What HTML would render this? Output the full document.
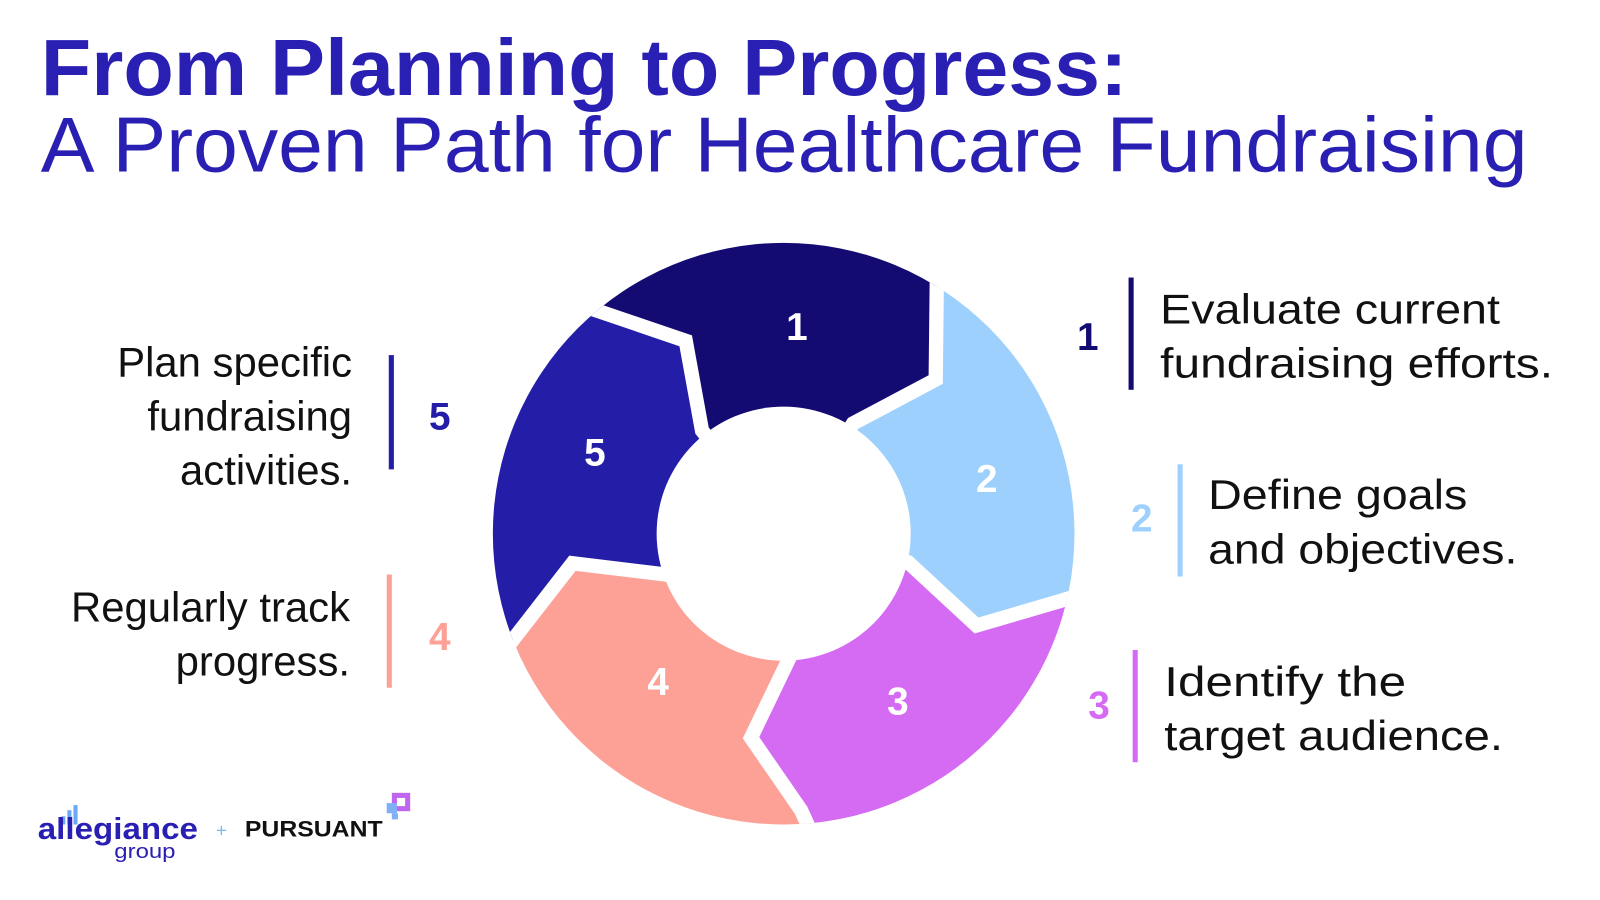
<!DOCTYPE html>
<html><head><meta charset="utf-8"><style>
html,body{margin:0;padding:0;background:#fff;}
svg{display:block;}
text{font-family:"Liberation Sans",sans-serif;}
</style></head><body>
<svg width="1600" height="900" viewBox="0 0 1600 900" xmlns="http://www.w3.org/2000/svg">
<defs>
<clipPath id="outer"><circle cx="768" cy="523" r="285"/></clipPath>
</defs>
<g transform="scale(1.0204)">
<text x="40" y="93" font-size="78" font-weight="bold" fill="#2a1fb3" textLength="1065" lengthAdjust="spacingAndGlyphs">From Planning to Progress:</text>
<text x="40" y="168" font-size="76" fill="#2a1fb3" textLength="1457" lengthAdjust="spacingAndGlyphs">A Proven Path for Healthcare Fundraising</text>

<g clip-path="url(#outer)">
<polygon fill="#130b72" points="768,523 688,422 672,334 584,304 480,270 480,150 919,150 918,281 917,372 836,415"/>
<polygon fill="#9dd0fd" points="768,523 836,415 917,372 918,281 919,150 1100,150 1100,560 1039,589 957,613 890,551"/>
<polygon fill="#d56bf2" points="768,523 890,551 957,613 1039,589 1100,570 1100,900 830,900 785,794 736,723 775,642"/>
<polygon fill="#fda096" points="768,523 775,642 736,723 785,794 830,900 400,900 460,683 505,624 561,552 652,563"/>
<polygon fill="#241da8" points="768,523 652,563 561,552 505,624 460,683 400,683 400,250 480,270 584,304 672,334 688,422"/>
<g fill="none" stroke="#fff" stroke-width="14" stroke-linejoin="miter">
<polyline points="768,523 836,415 917,372 918,281 919,150"/>
<polyline points="768,523 890,551 957,613 1039,589 1110,567"/>
<polyline points="768,523 775,642 736,723 785,794 820,870"/>
<polyline points="768,523 652,563 561,552 505,624 450,696"/>
<polyline points="768,523 688,422 672,334 584,304 470,266"/>
</g>
</g>
<circle cx="768" cy="523" r="124.5" fill="#fff"/>
<g font-size="38" font-weight="bold" fill="#fff" text-anchor="middle">
<text x="781" y="333">1</text>
<text x="967" y="482">2</text>
<text x="880" y="700">3</text>
<text x="645" y="681">4</text>
<text x="583" y="456">5</text>
</g>

<g font-size="41" fill="#111">
<text x="1137" y="317" textLength="333" lengthAdjust="spacingAndGlyphs">Evaluate current</text>
<text x="1137" y="370" textLength="385" lengthAdjust="spacingAndGlyphs">fundraising efforts.</text>
<text x="1184" y="499" textLength="254" lengthAdjust="spacingAndGlyphs">Define goals</text>
<text x="1184" y="552" textLength="303" lengthAdjust="spacingAndGlyphs">and objectives.</text>
<text x="1141" y="682" textLength="237" lengthAdjust="spacingAndGlyphs">Identify the</text>
<text x="1141" y="735" textLength="332" lengthAdjust="spacingAndGlyphs">target audience.</text>
<g text-anchor="end">
<text x="345" y="369">Plan specific</text>
<text x="345" y="422">fundraising</text>
<text x="345" y="475">activities.</text>
<text x="343" y="609">Regularly track</text>
<text x="343" y="662">progress.</text>
</g>
</g>
<rect x="1106" y="272" width="5" height="110" fill="#130b72"/>
<rect x="1154" y="455" width="5" height="110" fill="#9dd0fd"/>
<rect x="1110" y="637" width="5" height="110" fill="#d56bf2"/>
<rect x="381" y="348" width="5" height="112" fill="#241da8"/>
<rect x="379" y="563" width="5" height="111" fill="#fda096"/>
<g font-size="38" font-weight="bold" text-anchor="middle">
<text x="1066" y="343" fill="#130b72">1</text>
<text x="1119" y="521" fill="#9dd0fd">2</text>
<text x="1077" y="704" fill="#d56bf2">3</text>
<text x="431" y="637" fill="#fda096">4</text>
<text x="431" y="421" fill="#241da8">5</text>
</g>

<rect x="60" y="800" width="4" height="8" fill="#6aa8f5"/>
<rect x="66" y="794" width="4" height="14" fill="#6aa8f5"/>
<rect x="72" y="789" width="4" height="19" fill="#6aa8f5"/>
<text x="37" y="822" font-size="30" font-weight="bold" fill="#2a1fb3" textLength="157" lengthAdjust="spacingAndGlyphs">allegiance</text>
<text x="112" y="841" font-size="20" fill="#2a1fb3" textLength="60" lengthAdjust="spacingAndGlyphs">group</text>
<text x="217" y="820" font-size="18" fill="#7fb8f5" text-anchor="middle">+</text>
<text x="240" y="820" font-size="22" font-weight="bold" fill="#111" textLength="135" lengthAdjust="spacingAndGlyphs">PURSUANT</text>
<rect x="384" y="777" width="18" height="18" fill="#c066ee"/>
<rect x="389" y="782" width="8" height="8" fill="#fff"/>
<rect x="379" y="787" width="10" height="10" fill="#7fb0f5"/>
<rect x="384" y="797" width="6" height="6" fill="#7fb0f5"/>
</g>
</svg>
</body></html>
